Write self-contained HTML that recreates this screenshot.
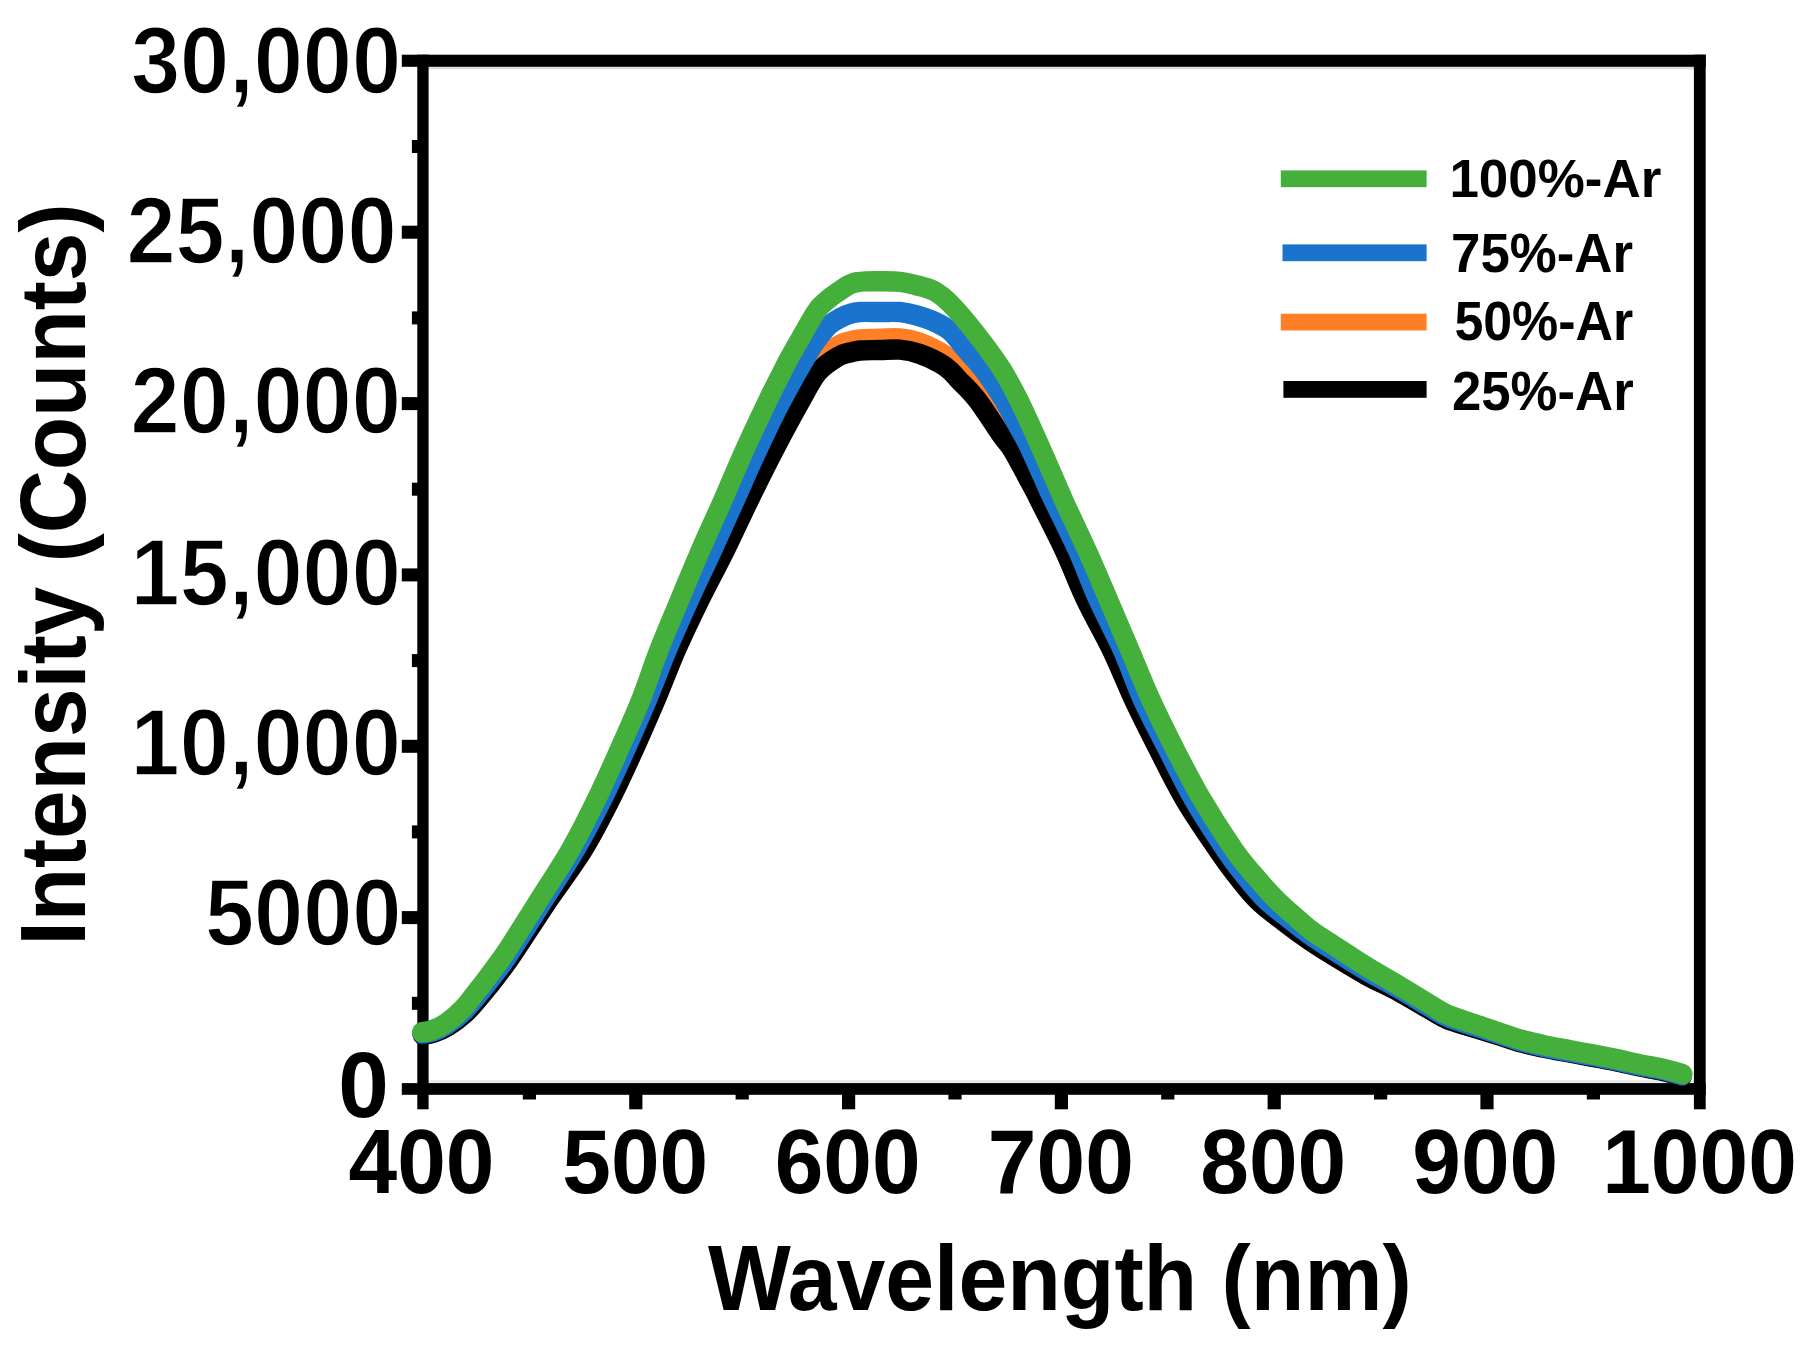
<!DOCTYPE html>
<html lang="en"><head><meta charset="utf-8"><title>PL spectra</title>
<style>html,body{margin:0;padding:0;background:#fff}body{width:1815px;height:1346px;overflow:hidden}svg{display:block}text{font-family:"Liberation Sans",sans-serif;font-weight:bold;fill:#000}</style></head><body>
<svg width="1815" height="1346" viewBox="0 0 1815 1346">
<rect width="1815" height="1346" fill="#fff"/>
<rect x="428.6" y="1080.0" width="1265.3" height="3.2" fill="#ebebeb"/>
<rect x="428.6" y="66.6" width="1265.3" height="2.8" fill="#dedede"/>
<g fill="#000">
<rect x="401.8" y="54.7" width="1303.9" height="12.1"/>
<rect x="401.8" y="1083.1" width="1303.9" height="11.7"/>
<rect x="417.3" y="54.7" width="11.3" height="1054.6"/>
<rect x="1693.9" y="54.7" width="11.8" height="1054.6"/>
<rect x="401.8" y="911.1" width="16.5" height="13.0"/>
<rect x="401.8" y="739.8" width="16.5" height="13.0"/>
<rect x="401.8" y="568.4" width="16.5" height="13.0"/>
<rect x="401.8" y="397.1" width="16.5" height="13.0"/>
<rect x="401.8" y="225.7" width="16.5" height="13.0"/>
<rect x="411.9" y="996.8" width="6.4" height="13.0"/>
<rect x="411.9" y="825.4" width="6.4" height="13.0"/>
<rect x="411.9" y="654.1" width="6.4" height="13.0"/>
<rect x="411.9" y="482.7" width="6.4" height="13.0"/>
<rect x="411.9" y="311.4" width="6.4" height="13.0"/>
<rect x="411.9" y="140.0" width="6.4" height="13.0"/>
<rect x="629.2" y="1093.8" width="13.2" height="15.5"/>
<rect x="842.0" y="1093.8" width="13.2" height="15.5"/>
<rect x="1054.8" y="1093.8" width="13.2" height="15.5"/>
<rect x="1267.6" y="1093.8" width="13.2" height="15.5"/>
<rect x="1480.4" y="1093.8" width="13.2" height="15.5"/>
<rect x="522.8" y="1093.8" width="13.2" height="5.7"/>
<rect x="735.6" y="1093.8" width="13.2" height="5.7"/>
<rect x="948.4" y="1093.8" width="13.2" height="5.7"/>
<rect x="1161.2" y="1093.8" width="13.2" height="5.7"/>
<rect x="1374.0" y="1093.8" width="13.2" height="5.7"/>
<rect x="1586.8" y="1093.8" width="13.2" height="5.7"/>
</g>
<g fill="none" stroke-width="19.5" stroke-linecap="round" stroke-linejoin="round" transform="scale(1 1.050)">
<path stroke="#FF7F27" d="M422.3 985.0C424.1 984.7 429.0 984.7 433.3 983.3C437.7 981.9 442.8 979.9 448.4 976.6C453.9 973.3 460.8 968.5 466.5 963.3C472.2 958.2 477.2 952.2 482.7 945.9C488.1 939.7 494.2 932.3 499.2 926.0C504.2 919.6 504.7 919.5 512.9 908.0C521.1 896.4 536.9 873.0 548.6 856.4C560.3 839.9 572.9 824.6 583.2 808.8C593.5 792.9 601.8 777.0 610.3 761.1C618.8 745.2 626.3 729.3 633.9 713.4C641.5 697.5 648.7 681.6 655.8 665.7C662.9 649.9 669.0 634.0 676.3 618.1C683.6 602.2 691.6 586.3 699.8 570.4C708.0 554.5 717.1 538.6 725.4 522.7C733.6 506.8 741.1 491.2 749.3 475.1C757.4 458.9 765.6 442.6 774.3 426.0C783.0 409.4 794.0 388.8 801.3 375.5C808.6 362.1 812.2 353.5 818.2 345.9C824.2 338.2 832.1 333.0 837.4 329.5C842.7 326.1 846.2 326.2 850.0 325.2C853.8 324.1 855.0 323.7 860.0 323.2C865.0 322.8 873.3 322.9 880.0 322.7C886.7 322.6 893.5 321.8 900.0 322.4C906.5 322.9 912.6 324.0 919.2 326.1C925.9 328.3 934.8 332.6 939.9 335.3C945.0 338.0 947.0 340.0 950.0 342.6C953.0 345.2 953.5 345.5 958.0 350.9C962.5 356.3 969.8 365.0 977.0 375.2C984.2 385.5 995.3 403.8 1001.2 412.5C1007.1 421.1 1006.9 418.2 1012.4 427.1C1017.9 436.1 1029.7 457.9 1034.2 466.0C1038.7 474.1 1034.2 466.1 1039.2 475.7C1044.2 485.2 1056.3 507.5 1064.1 523.3C1071.9 539.2 1077.9 555.1 1085.8 571.0C1093.7 586.8 1103.6 602.7 1111.6 618.6C1119.6 634.5 1126.0 650.3 1133.8 666.2C1141.6 682.1 1150.1 698.0 1158.6 713.8C1167.1 729.7 1175.1 745.6 1185.0 761.4C1194.9 777.3 1209.3 797.1 1217.9 809.1C1226.5 821.1 1229.9 825.4 1236.5 833.4C1243.1 841.3 1249.5 849.5 1257.3 856.7C1265.0 863.9 1274.2 870.2 1283.0 876.7C1291.8 883.2 1301.7 890.1 1310.0 895.5C1318.3 900.9 1323.3 903.7 1332.6 909.2C1341.9 914.6 1354.7 922.2 1365.7 928.0C1376.7 933.8 1387.8 938.3 1398.8 944.0C1409.8 949.6 1423.5 957.7 1431.8 962.1C1440.0 966.5 1440.0 967.5 1448.3 970.6C1456.6 973.7 1472.8 977.9 1481.4 980.5C1490.0 983.1 1493.0 983.9 1500.0 986.0C1507.0 988.0 1515.4 990.9 1523.1 992.9C1530.8 994.9 1538.6 996.4 1546.3 997.9C1554.0 999.4 1561.7 1000.7 1569.4 1002.0C1577.1 1003.4 1584.9 1004.7 1592.6 1006.1C1600.3 1007.5 1608.0 1008.8 1615.7 1010.3C1623.4 1011.8 1631.1 1013.6 1638.8 1015.1C1646.5 1016.7 1654.8 1017.8 1662.0 1019.4C1669.2 1021.0 1678.8 1023.7 1682.2 1024.6"/>
<path stroke="#000" d="M422.3 985.4C424.1 985.1 429.0 985.1 433.3 983.7C437.7 982.3 442.8 980.4 448.4 977.1C453.9 973.8 460.8 969.0 466.5 963.9C472.2 958.8 477.2 952.7 482.7 946.5C488.1 940.3 494.2 932.9 499.2 926.5C504.2 920.2 504.7 920.1 512.9 908.6C521.1 897.0 536.9 873.7 548.6 857.1C560.3 840.6 572.9 825.4 583.2 809.5C593.5 793.7 601.8 777.8 610.3 761.9C618.8 746.0 626.3 730.2 633.9 714.3C641.5 698.4 648.7 682.5 655.8 666.7C662.9 650.8 669.0 634.9 676.3 619.0C683.6 603.2 691.6 587.3 699.8 571.4C708.0 555.6 717.1 539.7 725.4 523.8C733.6 507.9 741.1 492.1 749.3 476.2C757.4 460.3 765.6 444.4 774.3 428.6C783.0 412.7 794.0 393.3 801.3 381.0C808.6 368.6 812.2 361.1 818.2 354.3C824.2 347.5 832.1 343.1 837.4 340.0C842.7 336.9 846.2 336.7 850.0 335.7C853.8 334.7 855.0 334.2 860.0 333.8C865.0 333.4 873.3 333.5 880.0 333.3C886.7 333.2 893.5 332.5 900.0 333.0C906.5 333.6 912.6 334.7 919.2 336.9C925.9 339.0 934.8 343.1 939.9 345.8C945.0 348.5 947.0 350.3 950.0 352.9C953.0 355.4 953.5 356.3 958.0 361.0C962.5 365.6 969.8 371.6 977.0 380.5C984.2 389.4 995.3 406.3 1001.2 414.3C1007.1 422.3 1006.9 419.8 1012.4 428.6C1017.9 437.3 1029.7 458.7 1034.2 466.7C1038.7 474.6 1034.2 466.7 1039.2 476.2C1044.2 485.7 1056.3 507.9 1064.1 523.8C1071.9 539.7 1077.9 555.6 1085.8 571.4C1093.7 587.3 1103.6 603.2 1111.6 619.0C1119.6 634.9 1126.0 650.8 1133.8 666.7C1141.6 682.5 1150.1 698.4 1158.6 714.3C1167.1 730.2 1175.1 746.0 1185.0 761.9C1194.9 777.8 1209.3 797.5 1217.9 809.5C1226.5 821.5 1229.9 825.9 1236.5 833.8C1243.1 841.7 1249.5 849.9 1257.3 857.1C1265.0 864.4 1274.2 870.7 1283.0 877.1C1291.8 883.6 1301.7 890.5 1310.0 895.9C1318.3 901.3 1323.3 904.2 1332.6 909.6C1341.9 915.0 1354.7 922.6 1365.7 928.4C1376.7 934.2 1387.8 938.7 1398.8 944.4C1409.8 950.1 1423.5 958.1 1431.8 962.5C1440.0 967.0 1440.0 967.9 1448.3 971.0C1456.6 974.1 1472.8 978.3 1481.4 980.9C1490.0 983.5 1493.0 984.3 1500.0 986.4C1507.0 988.4 1515.4 991.3 1523.1 993.3C1530.8 995.3 1538.6 996.8 1546.3 998.3C1554.0 999.8 1561.7 1001.1 1569.4 1002.4C1577.1 1003.8 1584.9 1005.1 1592.6 1006.5C1600.3 1007.9 1608.0 1009.2 1615.7 1010.7C1623.4 1012.2 1631.1 1014.0 1638.8 1015.5C1646.5 1017.0 1654.8 1018.2 1662.0 1019.8C1669.2 1021.3 1678.8 1024.1 1682.2 1025.0"/>
<path stroke="#1A73CC" d="M422.0 984.2C423.8 983.9 428.6 983.9 432.8 982.5C437.0 981.1 442.1 979.1 447.4 975.8C452.7 972.4 459.3 967.4 464.8 962.3C470.3 957.1 475.1 951.1 480.5 944.8C485.8 938.6 491.9 931.2 496.9 924.9C501.8 918.6 502.6 918.2 510.4 906.9C518.2 895.6 533.1 873.4 543.9 857.1C554.7 840.9 565.7 825.4 575.4 809.5C585.1 793.7 593.9 777.8 602.2 761.9C610.6 746.0 618.0 730.2 625.5 714.3C633.0 698.4 640.2 682.5 647.2 666.7C654.2 650.8 660.3 634.9 667.3 619.0C674.3 603.2 681.8 587.3 689.3 571.4C696.8 555.6 705.0 539.7 712.6 523.8C720.2 507.9 727.7 492.1 735.2 476.2C742.7 460.3 749.9 444.4 757.7 428.6C765.5 412.7 773.3 396.8 782.1 381.0C790.9 365.1 803.7 343.8 810.3 333.3C816.9 322.9 818.2 322.1 821.5 318.1C824.8 314.0 826.9 311.6 830.0 309.0C833.1 306.5 836.7 304.6 840.0 302.9C843.3 301.2 846.7 299.8 850.0 298.9C853.3 297.9 855.0 297.4 860.0 297.1C865.0 296.9 873.3 297.1 880.0 297.1C886.7 297.2 894.2 296.8 900.0 297.2C905.8 297.7 909.3 298.5 915.0 300.0C920.7 301.5 928.2 303.7 934.0 306.2C939.8 308.7 944.6 310.7 950.0 315.2C955.4 319.8 960.6 327.1 966.2 333.3C971.8 339.5 977.2 344.4 983.5 352.4C989.8 360.3 998.6 373.0 1003.8 381.0C1009.0 388.9 1010.4 392.9 1014.5 400.0C1018.6 407.1 1022.5 412.7 1028.2 423.8C1033.9 434.9 1044.3 457.9 1048.5 466.7C1052.7 475.4 1048.4 466.7 1053.2 476.2C1058.0 485.7 1069.8 507.9 1077.3 523.8C1084.8 539.7 1090.7 555.6 1098.2 571.4C1105.7 587.3 1115.0 603.2 1122.4 619.0C1129.8 634.9 1135.1 650.8 1142.7 666.7C1150.3 682.5 1159.4 698.4 1167.9 714.3C1176.4 730.2 1184.2 746.0 1193.8 761.9C1203.4 777.8 1217.1 797.5 1225.6 809.5C1234.0 821.5 1237.8 825.9 1244.5 833.8C1251.2 841.7 1258.2 850.2 1265.8 857.1C1273.4 864.1 1282.6 870.1 1290.0 875.7C1297.4 881.3 1302.9 885.8 1310.0 890.6C1317.1 895.4 1323.3 898.9 1332.6 904.5C1341.9 910.1 1354.7 918.0 1365.7 924.1C1376.7 930.3 1387.8 935.4 1398.8 941.5C1409.8 947.5 1423.5 955.7 1431.8 960.3C1440.0 964.9 1440.0 965.9 1448.3 969.1C1456.6 972.3 1472.8 976.8 1481.4 979.5C1490.0 982.2 1493.0 983.1 1500.0 985.2C1507.0 987.4 1515.4 990.3 1523.1 992.3C1530.8 994.4 1538.6 996.0 1546.3 997.5C1554.0 999.1 1561.7 1000.3 1569.4 1001.6C1577.1 1003.0 1584.9 1004.3 1592.6 1005.7C1600.3 1007.1 1608.0 1008.4 1615.7 1009.9C1623.4 1011.4 1631.1 1013.2 1638.8 1014.7C1646.5 1016.2 1654.8 1017.4 1662.0 1018.9C1669.2 1020.5 1678.8 1023.3 1682.2 1024.1"/>
<path stroke="#45AF3B" d="M421.8 983.0C423.6 982.7 428.2 982.6 432.3 981.1C436.4 979.7 441.2 977.7 446.3 974.3C451.4 970.9 457.6 965.8 462.9 960.6C468.1 955.3 472.6 949.2 477.8 942.9C483.0 936.6 488.9 929.1 493.8 922.8C498.7 916.4 499.8 915.7 507.3 904.8C514.8 893.8 528.5 873.0 539.0 857.1C549.5 841.3 560.8 825.4 570.3 809.5C579.8 793.7 588.1 777.8 596.2 761.9C604.3 746.0 611.7 730.2 619.1 714.3C626.5 698.4 634.1 682.5 640.8 666.7C647.4 650.8 652.5 634.9 659.0 619.0C665.5 603.2 672.7 587.3 679.6 571.4C686.5 555.6 693.4 539.7 700.6 523.8C707.8 507.9 715.7 492.1 723.0 476.2C730.3 460.3 737.1 444.4 744.6 428.6C752.1 412.7 762.4 392.1 768.0 381.0C773.6 369.8 774.6 368.3 778.0 361.9C781.4 355.6 785.6 347.6 788.2 342.9C790.8 338.1 791.9 336.5 793.8 333.3C795.7 330.2 797.5 327.1 799.5 323.8C801.5 320.6 803.5 317.1 805.5 313.8C807.5 310.5 809.4 307.1 811.5 303.8C813.6 300.5 816.2 296.4 818.3 293.8C820.4 291.2 822.2 290.0 824.1 288.4C826.0 286.7 827.8 285.4 829.6 284.0C831.4 282.6 833.3 281.3 835.1 280.0C836.9 278.7 838.8 277.7 840.6 276.5C842.4 275.3 844.3 273.8 846.1 272.8C847.9 271.7 849.8 270.9 851.6 270.2C853.4 269.5 854.7 269.1 857.1 268.8C859.5 268.4 862.2 268.2 866.0 268.0C869.8 267.8 874.3 267.7 880.0 267.8C885.7 267.9 894.2 267.8 900.0 268.4C905.8 269.0 909.3 270.0 915.0 271.4C920.7 272.9 928.2 274.2 934.0 277.1C939.8 280.1 943.1 282.4 950.0 289.0C956.9 295.7 967.0 306.9 975.5 317.1C984.0 327.4 993.8 339.8 1001.0 350.5C1008.2 361.1 1012.0 367.9 1018.8 381.0C1025.6 394.0 1034.3 412.7 1041.8 428.6C1049.3 444.4 1056.1 460.3 1063.6 476.2C1071.1 492.1 1079.3 507.9 1086.8 523.8C1094.3 539.7 1101.3 555.6 1108.5 571.4C1115.7 587.3 1122.7 603.2 1129.8 619.0C1136.9 634.9 1143.4 650.8 1151.0 666.7C1158.6 682.5 1166.9 698.4 1175.4 714.3C1183.9 730.2 1192.4 746.0 1202.2 761.9C1212.0 777.8 1225.5 797.6 1234.1 809.5C1242.7 821.4 1246.9 825.4 1254.0 833.3C1261.1 841.3 1270.0 850.8 1276.5 857.1C1283.0 863.5 1287.4 866.5 1293.0 871.2C1298.6 875.9 1303.4 880.6 1310.0 885.3C1316.6 890.1 1323.3 893.8 1332.6 899.6C1341.9 905.4 1354.7 913.6 1365.7 920.1C1376.7 926.6 1387.8 932.3 1398.8 938.6C1409.8 944.8 1423.5 953.0 1431.8 957.7C1440.0 962.4 1440.0 963.4 1448.3 966.7C1456.6 970.0 1472.8 974.7 1481.4 977.5C1490.0 980.3 1493.0 981.3 1500.0 983.5C1507.0 985.7 1515.4 988.6 1523.1 990.7C1530.8 992.7 1538.6 994.3 1546.3 995.9C1554.0 997.5 1561.7 998.7 1569.4 1000.1C1577.1 1001.5 1584.9 1002.8 1592.6 1004.2C1600.3 1005.6 1608.0 1007.0 1615.7 1008.5C1623.4 1010.0 1631.1 1011.8 1638.8 1013.3C1646.5 1014.9 1654.7 1016.0 1662.0 1017.6C1669.3 1019.2 1679.3 1022.1 1682.8 1023.0"/>
</g>
<g>
<rect x="1280.8" y="170.4" width="145.8" height="16.8" fill="#45AF3B"/>
<rect x="1282.5" y="244.4" width="144.1" height="16.8" fill="#1A73CC"/>
<rect x="1280.8" y="313.7" width="145.8" height="16.8" fill="#FF7F27"/>
<rect x="1283.4" y="381.0" width="143.2" height="16.8" fill="#000"/>
</g>
<text transform="translate(130.92 92.80) scale(0.9380 1)" font-size="94.20" stroke="#fff" stroke-width="1.6">30,000</text>
<text transform="translate(126.42 262.90) scale(0.9380 1)" font-size="94.20" stroke="#fff" stroke-width="1.6">25,000</text>
<text transform="translate(130.62 432.50) scale(0.9380 1)" font-size="94.20" stroke="#fff" stroke-width="1.6">20,000</text>
<text transform="translate(130.62 605.00) scale(0.9380 1)" font-size="94.20" stroke="#fff" stroke-width="1.6">15,000</text>
<text transform="translate(130.62 774.50) scale(0.9380 1)" font-size="94.20" stroke="#fff" stroke-width="1.6">10,000</text>
<text transform="translate(204.90 945.00) scale(0.9380 1)" font-size="94.20" stroke="#fff" stroke-width="1.6">5000</text>
<text transform="translate(338.20 1117.00) scale(0.9771 1)" font-size="93.00">0</text>
<text transform="translate(348.54 1192.90) scale(0.9550 1)" font-size="91.60">400</text>
<text transform="translate(562.24 1192.90) scale(0.9550 1)" font-size="91.60">500</text>
<text transform="translate(774.64 1192.90) scale(0.9550 1)" font-size="91.60">600</text>
<text transform="translate(987.84 1192.90) scale(0.9550 1)" font-size="91.60">700</text>
<text transform="translate(1200.24 1192.90) scale(0.9550 1)" font-size="91.60">800</text>
<text transform="translate(1412.34 1192.90) scale(0.9550 1)" font-size="91.60">900</text>
<text transform="translate(1602.22 1192.90) scale(0.9550 1)" font-size="91.60">1000</text>
<text transform="translate(708.10 1310.30) scale(0.9559 1)" font-size="91.80">Wavelength (nm)</text>
<text transform="translate(1449.40 196.90) scale(0.9701 1)" font-size="54.60">100%-Ar</text>
<text transform="translate(1451.00 271.80) scale(0.9675 1)" font-size="54.60">75%-Ar</text>
<text transform="translate(1454.40 340.40) scale(0.9504 1)" font-size="54.60">50%-Ar</text>
<text transform="translate(1451.90 410.10) scale(0.9664 1)" font-size="54.60">25%-Ar</text>
<text transform="translate(84.90 945.60) rotate(-90) scale(0.9511 1)" font-size="91.80">Intensity (Counts)</text>
</svg></body></html>
